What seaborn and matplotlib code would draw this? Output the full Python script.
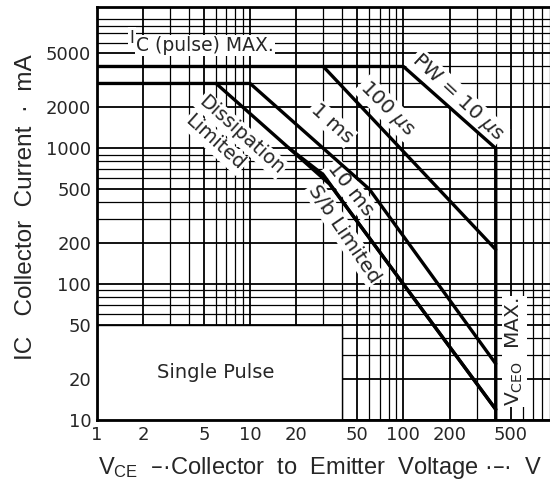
import numpy as np
import pandas as pd
import matplotlib
matplotlib.use("Agg")
import matplotlib.pyplot as plt
from matplotlib.patches import Rectangle
import seaborn as sns

# Safe operating area curves (V in volts, I in mA)
pw10us_v = [1, 100, 400, 400]
pw10us_i = [4000, 4000, 1000, 10]
pw100us_v = [30, 400]
pw100us_i = [4000, 180]
pw1ms_v = [1, 10, 60, 400]
pw1ms_i = [3000, 3000, 500, 26]
pw10ms_v = [18, 30, 45, 400]
pw10ms_i = [1000, 640, 340, 12]
dc_v = [6, 33, 400]
dc_i = [3000, 545, 12]

x_ticks = [1, 2, 5, 10, 20, 50, 100, 200, 500]
y_ticks = [10, 20, 50, 100, 200, 500, 1000, 2000, 5000]

sns.set_style("white")
plt.rcParams["font.family"] = ["DejaVu Sans"]
plt.rcParams["mathtext.fontset"] = "dejavusans"
lab_font = ["Liberation Sans", "DejaVu Sans"]

fig = plt.figure(figsize=(5.5, 4.84), dpi=100)
ax = fig.add_axes([0.176, 0.132, 0.83, 0.854])
ax.set_xscale("log")
ax.set_yscale("log")
ax.set_xlim(1, 950)
ax.set_ylim(10, 11000)

# graph paper grid
ax.grid(which="major", color="black", lw=1.3)
ax.grid(which="minor", color="black", lw=0.9)
ax.set_axisbelow(True)

curves = [(pw10us_v, pw10us_i), (pw100us_v, pw100us_i), (pw1ms_v, pw1ms_i),
          (pw10ms_v, pw10ms_i), (dc_v, dc_i)]
for v, i in curves:
    df = pd.DataFrame({"V": v, "I": i})
    sns.lineplot(data=df, x="V", y="I", ax=ax, color="black", lw=2.4,
                 sort=False, estimator=None, zorder=6)

# white box of the "Single Pulse" area
ax.add_patch(Rectangle((1, 10), 39, 40, facecolor="white", edgecolor="black",
                       lw=1, zorder=3))

box = dict(facecolor="white", edgecolor="none", pad=1.0)
fs = 14.5
ax.text(1.8, 5700, "C (pulse) MAX.", fontsize=13.5, ha="left",
        va="center", bbox=box, zorder=5)
ax.text(1.76, 6500, "I", fontsize=12, ha="right", va="center", bbox=box,
        zorder=5)
ax.text(226, 2370, r"PW = 10 $\mu$s", fontsize=fs, rotation=-43, ha="center",
        va="center", bbox=box, zorder=5)
ax.text(78, 1970, r"100 $\mu$s", fontsize=fs, rotation=-45, ha="center",
        va="center", bbox=box, zorder=5)
ax.text(34, 1530, "1 ms", fontsize=fs, rotation=-42, ha="center",
        va="center", bbox=box, zorder=5)
ax.text(45, 500, "10 ms", fontsize=fs, rotation=-52, ha="center",
        va="center", bbox=box, zorder=5)
ax.text(8.8, 1250, "Dissipation", fontsize=14, rotation=-42, ha="center",
        va="center", bbox=box, zorder=5)
ax.text(5.9, 1100, "Limited", fontsize=14, rotation=-42, ha="center",
        va="center", bbox=box, zorder=5)
ax.text(41, 235, "S/b Limited", fontsize=fs, rotation=-56, ha="center",
        va="center", bbox=box, zorder=5)
ax.text(530, 32, r"$\mathregular{V_{CEO}}$  MAX.", fontsize=fs, rotation=90,
        ha="center", va="center", bbox=box, zorder=5)
ax.text(6, 22.5, "Single Pulse", fontsize=14, ha="center", va="center",
        zorder=5)

ax.set_xticks(x_ticks)
ax.set_xticklabels([str(t) for t in x_ticks])
ax.set_yticks(y_ticks)
ax.set_yticklabels([str(t) for t in y_ticks])
ax.xaxis.set_minor_formatter(matplotlib.ticker.NullFormatter())
ax.yaxis.set_minor_formatter(matplotlib.ticker.NullFormatter())
ax.tick_params(which="both", length=0, labelsize=13, pad=4)

for s in ["left", "bottom", "top"]:
    ax.spines[s].set_linewidth(2)
    ax.spines[s].set_color("black")
    ax.spines[s].set_zorder(7)
ax.spines["right"].set_visible(False)

ax.set_xlabel(r"$\mathregular{V_{CE}}$  –·Collector  to  Emitter  Voltage ·–·  V",
              fontsize=17, family=lab_font)
ax.set_ylabel("IC   Collector  Current  ·  mA", fontsize=17.5, family=lab_font)
ax.xaxis.set_label_coords(0.49, -0.085)
ax.yaxis.set_label_coords(-0.13, 0.516)

fig.savefig("out.png", dpi=100)
